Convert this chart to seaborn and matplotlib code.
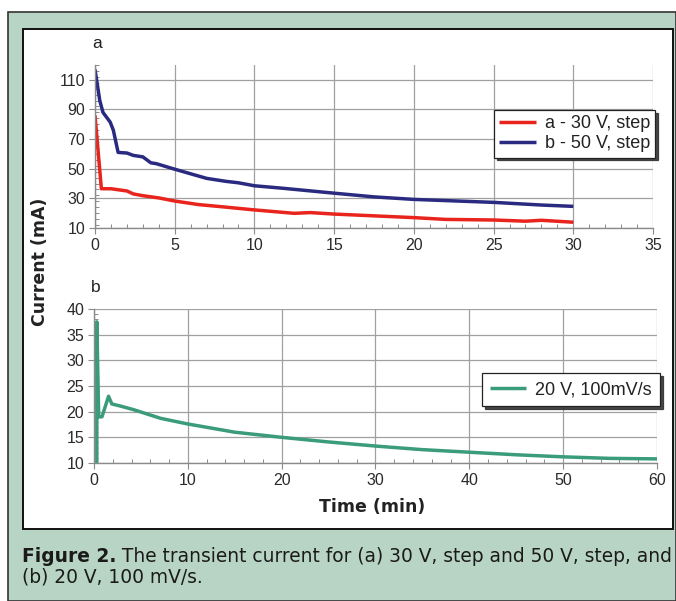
import numpy as np
import pandas as pd
import matplotlib
matplotlib.use("Agg")
import matplotlib.pyplot as plt
from matplotlib.patches import Rectangle
from matplotlib.ticker import MultipleLocator
import seaborn as sns

# (a) step transients
t_a = [0, 0.4, 1.0, 2.0, 2.4, 3.0, 4.0, 5.0, 6.5, 8.0, 10.0, 12.5, 13.5, 15.0,
       17.5, 20.0, 22.0, 25.0, 27.0, 28.0, 30.0]
i_a = [86, 36.5, 36.5, 35, 33, 31.8, 30.3, 28.2, 25.8, 24.3, 22.2, 19.9, 20.4,
       19.4, 18.2, 17.0, 15.8, 15.4, 14.6, 15.2, 13.9]

t_b = [0, 0.3, 0.5, 0.95, 1.15, 1.45, 2.0, 2.4, 3.0, 3.5, 3.85, 4.9, 5.7, 7.0,
       8.2, 9.0, 10.0, 11.8, 15.0, 17.5, 20.0, 25.0, 28.0, 30.0]
i_b = [117, 96, 88, 81.5, 76, 61, 60.6, 59, 58, 54, 53.4, 50, 47.5, 43.5,
       41.5, 40.5, 38.5, 36.8, 33.5, 31, 29.3, 27.3, 25.5, 24.6]

# (b) sweep transient
t_c = [0.3, 0.3, 0.5, 0.85, 1.55, 1.9, 2.8, 4.2, 7.1, 10, 15, 20, 25, 30, 35,
       40, 45, 50, 55, 60]
i_c = [10, 37.5, 19, 19, 23, 21.5, 21.1, 20.4, 18.7, 17.6, 16.0, 15.0, 14.1,
       13.3, 12.6, 12.1, 11.6, 11.2, 10.9, 10.8]

labels_top = ["a - 30 V, step", "b - 50 V, step"]
label_bottom = "20 V, 100mV/s"
xticks_top = list(range(0, 36, 5))
yticks_top = list(range(10, 111, 20))
xticks_bottom = list(range(0, 61, 10))
yticks_bottom = list(range(10, 41, 5))

RED = "#e8241c"
NAVY = "#2a2a80"
GREEN = "#3a9c7a"
PANEL = "#b8d4c4"
GRID = "#a0a0a0"

sns.set_theme(style="whitegrid")
plt.rcParams["font.family"] = ["Liberation Sans", "DejaVu Sans"]
plt.rcParams["font.size"] = 11

fig = plt.figure(figsize=(6.76, 6.01), dpi=100)
W, H = 676, 601


def fr(x0, y0, x1, y1):
    return [x0 / W, 1 - y1 / H, (x1 - x0) / W, (y1 - y0) / H]


# green page panel and white chart area
fig.patches.append(Rectangle((8 / W, 0), (W - 8) / W, 1 - 12 / H,
                             transform=fig.transFigure, facecolor=PANEL,
                             edgecolor="#333333", linewidth=1.2, zorder=-2))
fig.patches.append(Rectangle((23 / W, 1 - 529 / H), 650 / W, 500 / H,
                             transform=fig.transFigure, facecolor="white",
                             edgecolor="#111111", linewidth=1.4, zorder=-1))

ax1 = fig.add_axes(fr(95, 65, 653, 228))
ax2 = fig.add_axes(fr(94, 309, 657, 463))

df_top = pd.concat([
    pd.DataFrame({"t": t_a, "i": i_a, "s": labels_top[0]}),
    pd.DataFrame({"t": t_b, "i": i_b, "s": labels_top[1]}),
])
sns.lineplot(data=df_top, x="t", y="i", hue="s", palette=[RED, NAVY],
             estimator=None, sort=False, linewidth=2.5, ax=ax1)

df_bot = pd.DataFrame({"t": t_c, "i": i_c, "s": label_bottom})
sns.lineplot(data=df_bot, x="t", y="i", hue="s", palette=[GREEN],
             estimator=None, sort=False, linewidth=2.5, ax=ax2)

for ax, xt, yt, xl, yl, xm, ym in [
    (ax1, xticks_top, yticks_top, (0, 35), (10, 120), 1, 4),
    (ax2, xticks_bottom, yticks_bottom, (0, 60), (10, 40), 2, 1),
]:
    ax.set_facecolor("white")
    ax.set_xlim(*xl)
    ax.set_ylim(*yl)
    ax.set_xticks(xt)
    ax.set_yticks(yt)
    ax.xaxis.set_minor_locator(MultipleLocator(xm))
    ax.yaxis.set_minor_locator(MultipleLocator(ym))
    ax.grid(True, which="major", color=GRID, linewidth=0.9)
    ax.grid(False, which="minor")
    ax.set_xlabel("")
    ax.set_ylabel("")
    for s in ("top", "right"):
        ax.spines[s].set_visible(False)
    for s in ("left", "bottom"):
        ax.spines[s].set_visible(True)
        ax.spines[s].set_color("#8a8a8a")
        ax.spines[s].set_linewidth(1.0)
    ax.tick_params(which="major", length=4, width=0.8, color="#8a8a8a",
                   labelsize=11.5, labelcolor="#2a2a2a", pad=3,
                   left=True, bottom=True)
    ax.tick_params(which="minor", direction="in", length=3, width=0.7,
                   color="#8a8a8a", left=True, bottom=True)
    for ln in ax.get_lines():
        ln.set_solid_capstyle("butt")

leg1 = ax1.legend(loc="upper right", bbox_to_anchor=(1.004, 0.724),
                  frameon=True, fancybox=False,
                  shadow={"color": "#333333", "alpha": 0.9},
                  edgecolor="#222222", fontsize=13, handlelength=2.0,
                  borderpad=0.3, labelspacing=0.15, handletextpad=0.5,
                  borderaxespad=0)
leg1.get_frame().set_linewidth(0.9)
leg2 = ax2.legend(loc="upper right", bbox_to_anchor=(1.005, 0.584),
                  frameon=True, fancybox=False,
                  shadow={"color": "#333333", "alpha": 0.9},
                  edgecolor="#222222", fontsize=13, handlelength=2.0,
                  borderpad=0.45, handletextpad=0.5, borderaxespad=0)
leg2.get_frame().set_linewidth(0.9)
for leg in (leg1, leg2):
    for t in leg.get_texts():
        t.set_color("#222222")

fig.text(97 / W, 1 - 44 / H, "a", ha="center", va="center", fontsize=12.5,
         color="#222222")
fig.text(96 / W, 1 - 288 / H, "b", ha="center", va="center", fontsize=12.5,
         color="#222222")
fig.text(40 / W, 1 - 262 / H, "Current (mA)", rotation=90, ha="center",
         va="center", fontsize=12.5, fontweight="bold", color="#222222",
         family=["DejaVu Sans"])
fig.text(372 / W, 1 - 507 / H, "Time (min)", ha="center", va="center",
         fontsize=12.5, fontweight="bold", color="#222222",
         family=["DejaVu Sans"])

# caption below the chart, in a wide face sized to span the page
cap_x = 22 / W
cap_font = ["DejaVu Sans"]
cap_size = 12.5
renderer = fig.canvas.get_renderer()
t_bold = fig.text(cap_x, 1 - 557 / H, "Figure 2.", ha="left", va="center",
                  fontsize=cap_size, fontweight="bold", color="#1a1a1a",
                  family=cap_font)
t_rest = fig.text(0, 1 - 557 / H,
                  " The transient current for (a) 30 V, step and 50 V, step, and",
                  ha="left", va="center", fontsize=cap_size, color="#1a1a1a",
                  family=cap_font)
t_line2 = fig.text(cap_x, 1 - 577 / H, "(b) 20 V, 100 mV/s.", ha="left",
                   va="center", fontsize=cap_size, color="#1a1a1a",
                   family=cap_font)
w_total = (t_bold.get_window_extent(renderer).width
           + t_rest.get_window_extent(renderer).width)
cap_size = cap_size * (676 - 22) / w_total
for t in (t_bold, t_rest, t_line2):
    t.set_fontsize(cap_size)
bb = t_bold.get_window_extent(renderer)
t_rest.set_x(bb.x1 / W)

fig.savefig("out.png", dpi=100)
